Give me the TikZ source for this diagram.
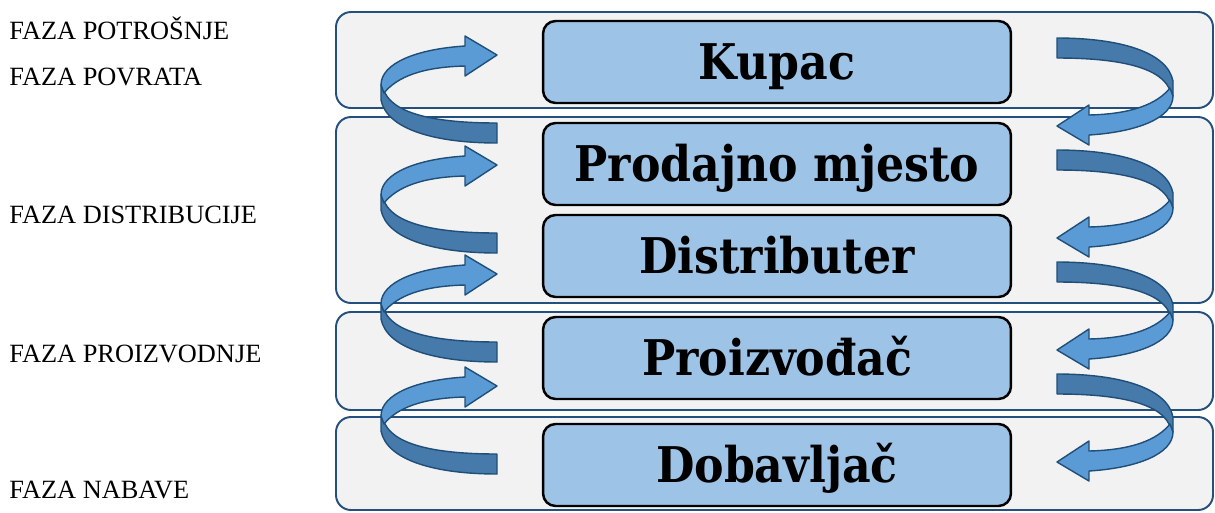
\documentclass[tikz,border=0pt]{standalone}
\usepackage{fontspec}
\setmainfont{Liberation Serif}
\newfontfamily\boxfont{DejaVu Serif Condensed}
\usepackage{tikz}

\definecolor{bandgray}{RGB}{242,242,242}
\definecolor{bandline}{RGB}{37,80,126}
\definecolor{boxblue}{RGB}{157,195,230}
\definecolor{arrowlight}{RGB}{91,155,213}
\definecolor{arrowdark}{RGB}{70,122,170}
\definecolor{arrowline}{RGB}{31,78,121}

\begin{document}
\begin{tikzpicture}[x=0.02cm,y=-0.02cm,
	band/.style={draw=bandline,fill=bandgray,line width=1.1pt,rounded corners=0.3cm},
	actor/.style={draw=black,fill=boxblue,line width=1.4pt,rounded corners=0.25cm,
		minimum width=9.36cm,minimum height=1.64cm,text height=0.7cm,text depth=0pt,
		font=\boxfont\bfseries\fontsize{28}{31}\selectfont},
	phase/.style={anchor=base west,inner sep=0pt,font=\fontsize{15}{18}\selectfont},
	light/.style={fill=arrowlight,draw=arrowline,line width=0.8pt,line join=round},
	dark/.style={fill=arrowdark,draw=arrowline,line width=0.8pt,line join=round}]
			\useasboundingbox (0,0) rectangle (1215,512);
			% phase bands
			\draw[band] (336,12) rectangle (1213,108);
			\draw[band] (336,117) rectangle (1213,303);
			\draw[band] (336,312) rectangle (1213,410);
			\draw[band] (336,417) rectangle (1213,510);
			% chain members
			\node	(kupac) at (777,62) [actor] {Kupac};
			\node	(prodaja) at (777,164) [actor] {Prodajno mjesto};
			\node	(distributer) at (777,256) [actor] {Distributer};
			\node	(proizvodac) at (777,358) [actor] {Proizvođač};
			\node	(dobavljac) at (777,465) [actor] {Dobavljač};
			% phase labels
			\node	(potrosnja) at (9,39) [phase] {FAZA POTROŠNJE};
			\node	(povrat) at (9,85) [phase] {FAZA POVRATA};
			\node	(distribucija) at (9,223) [phase] {FAZA DISTRIBUCIJE};
			\node	(proizvodnja) at (9,362) [phase] {FAZA PROIZVODNJE};
			\node	(nabava) at (9,498) [phase] {FAZA NABAVE};
			% left spiral arrows, going up
			\foreach \t in {55,165,274,386}{
				\begin{scope}[shift={(497,\t)}]
					\draw[dark] (-116,30) -- (-116,45) .. controls (-110,75) and (-60,88) .. (0,88) -- (0,68) .. controls (-50,68) and (-100,62) .. (-112,38) -- cycle;
					\draw[light] (0,0) -- (-32,-19) -- (-32,-9) .. controls (-80,-6) and (-116,8) .. (-116,30) -- (-113,38) .. controls (-100,22) and (-75,12) .. (-32,11) -- (-32,21) -- cycle;
				\end{scope}
			}
			% right spiral arrows, going down
			\foreach \t in {126,238,350,462}{
				\begin{scope}[shift={(1057,\t)},rotate=180]
					\draw[dark] (-116,30) -- (-116,45) .. controls (-110,75) and (-60,88) .. (0,88) -- (0,68) .. controls (-50,68) and (-100,62) .. (-112,38) -- cycle;
					\draw[light] (0,0) -- (-32,-19) -- (-32,-9) .. controls (-80,-6) and (-116,8) .. (-116,30) -- (-113,38) .. controls (-100,22) and (-75,12) .. (-32,11) -- (-32,21) -- cycle;
				\end{scope}
			}
\end{tikzpicture}
\end{document}
